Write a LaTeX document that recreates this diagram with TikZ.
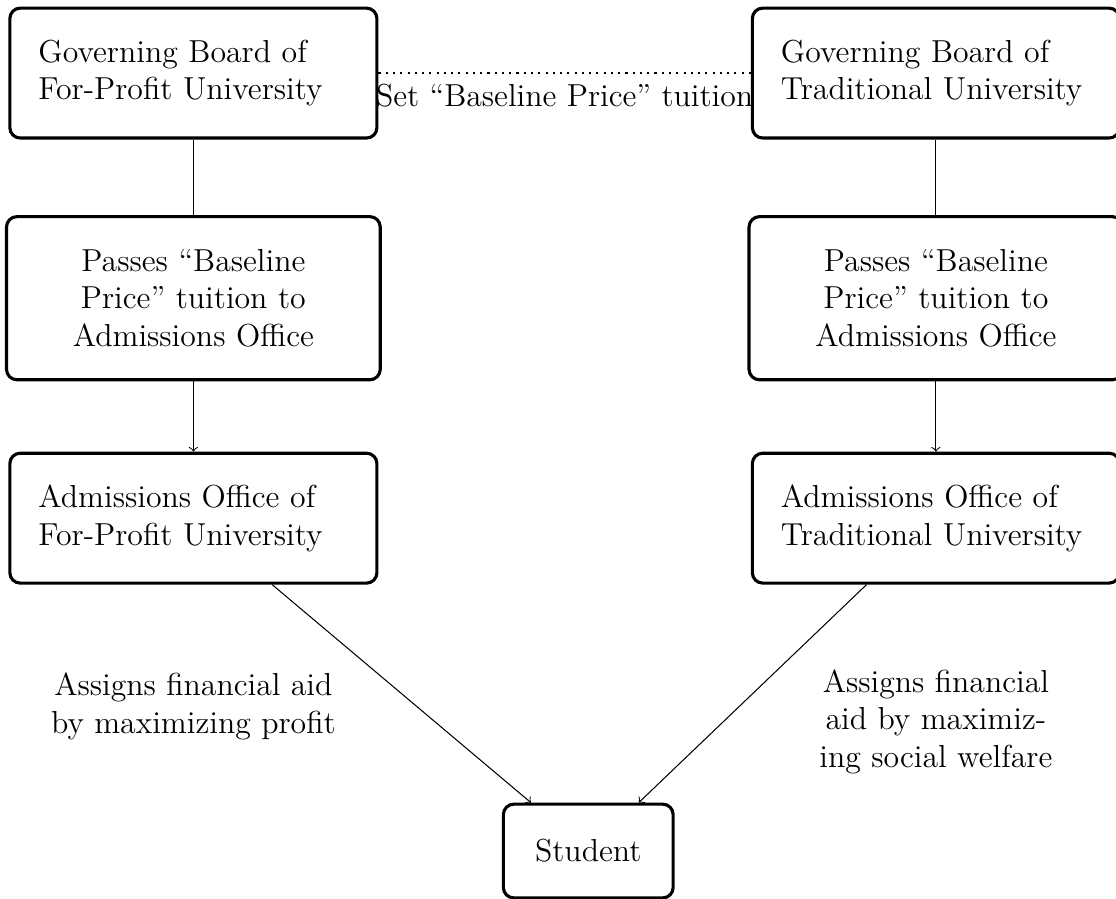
\documentclass[tikz,border=0pt,12pt]{standalone}
\usepackage{tikz}
\usetikzlibrary{arrows, positioning}
\tikzstyle{board} = [rectangle, rounded corners, very thick, draw=black, inner xsep=11pt, inner ysep=6pt, minimum height=1.76cm, text width=4.2cm, align=left]
\tikzstyle{passbox} = [rectangle, rounded corners, very thick, draw=black, inner xsep=11pt, inner ysep=6pt, minimum height=2.21cm, text width=4.29cm, align=center]
\tikzstyle{endbox} = [rectangle, rounded corners, very thick, draw=black, minimum width=2.3cm, minimum height=1.27cm, align=center]
\tikzstyle{aidnote} = [align=center]
\tikzstyle{tie} = [thick, dotted]
\tikzstyle{arrow} = [->]

\begin{document}
\begin{tikzpicture}[node distance=3cm, font=\fontsize{12.26pt}{14.5pt}\selectfont]
\useasboundingbox (0,0) rectangle (15.12,-12.17);
\node (gbfp) [board] at (2.62,-0.99) {Governing Board of\\For-Profit University};
\node (passfp) [passbox, below of=gbfp, yshift=-0.05cm] {Passes ``Baseline\\Price'' tuition to\\Admissions Office};
\node (admfp) [board, below of=passfp, yshift=0.02cm] {Admissions Office of\\For-Profit University};
\node (gbtr) [board, right of=gbfp, xshift=7.06cm] {Governing Board of\\Traditional University};
\node (passtr) [passbox, below of=gbtr, yshift=-0.05cm] {Passes ``Baseline\\Price'' tuition to\\Admissions Office};
\node (admtr) [board, below of=passtr, yshift=0.02cm] {Admissions Office of\\Traditional University};
\node (stud) [endbox] at (7.97,-11.53) {Student};
\node (aidfp) [aidnote, below of=admfp, yshift=0.45cm] {Assigns financial aid\\by maximizing profit};
\node (aidtr) [aidnote, below of=admtr, yshift=0.24cm] {Assigns financial\\aid by maximiz-\\ing social welfare};

\draw [tie] (gbfp.east) -- node[below] {Set ``Baseline Price'' tuition} (gbtr.west);
\draw (gbfp) -- (passfp);
\draw (gbtr) -- (passtr);
\draw [arrow] (passfp) -- (admfp);
\draw [arrow] (passtr) -- (admtr);
\draw [arrow] (admfp) -- (stud);
\draw [arrow] (admtr) -- (stud);
\end{tikzpicture}
\end{document}
